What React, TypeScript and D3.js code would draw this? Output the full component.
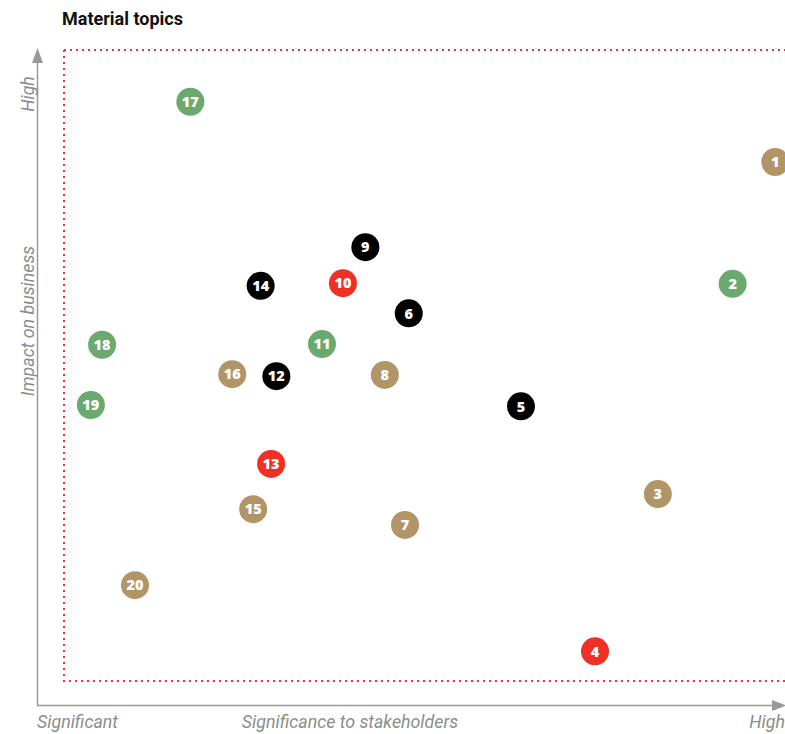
import React from "react";
import * as d3 from "d3";

const ids = [17, 1, 9, 10, 14, 2, 6, 18, 11, 16, 12, 8, 19, 5, 13, 3, 15, 7, 20, 4];
const stakeholders = [20.5, 98.7, 43.9, 40.9, 29.9, 93.0, 49.7, 8.7, 38.1, 26.1, 32.0, 46.5, 7.2, 64.7, 31.3, 83.0, 28.9, 49.2, 13.1, 74.6];
const business = [92.1, 82.9, 69.9, 64.4, 64.0, 64.3, 59.8, 55.0, 55.1, 50.5, 50.2, 50.4, 45.8, 45.6, 36.8, 32.2, 29.9, 27.5, 18.3, 8.2];
const groups = ["green", "tan", "black", "red", "black", "green", "black", "green", "green", "tan", "black", "tan", "green", "black", "red", "tan", "tan", "tan", "tan", "red"];

const groupNames = ["green", "tan", "black", "red"];
const groupColors = ["#6aaa6e", "#b29567", "#000000", "#ee3124"];

const W = 785;
const H = 734;

export default function App() {
  const x = d3.scaleLinear().domain([0, 100]).range([37, 785]);
  const y = d3.scaleLinear().domain([0, 100]).range([705, 50]);
  const color = d3.scaleOrdinal<string, string>().domain(groupNames).range(groupColors);
  const axisColor = "#9a9a9a";
  const textColor = "#8c8c8c";
  const labelFont = "Roboto, sans-serif";
  const fs = 17.8;

  return (
    <svg width={W} height={H} style={{ position: "absolute", left: 0, top: 0, background: "#fff" }}>
      <text x={62} y={25} fontFamily="Roboto, sans-serif" fontWeight={700} fontSize={18} fill="#111" textLength={121} lengthAdjust="spacingAndGlyphs">
        Material topics
      </text>

      {/* dotted red frame */}
      <path d={`M64,50 H790 M64,50 V681 H790`} fill="none" stroke="#e8393a" strokeWidth={2} strokeDasharray="2,4" />

      {/* axes */}
      <line x1={37} y1={705.5} x2={776} y2={705.5} stroke={axisColor} strokeWidth={1.5} />
      <line x1={37.5} y1={705} x2={37.5} y2={60} stroke={axisColor} strokeWidth={1.5} />
      <path d="M32,63 L37.5,48 L43,63 Z" fill={axisColor} />
      <path d="M772,700 L786,705.5 L772,711 Z" fill={axisColor} />

      {/* axis labels */}
      <text x={37} y={728} fontFamily={labelFont} fontStyle="italic" fontSize={fs} fill={textColor}>Significant</text>
      <text x={350} y={728} textAnchor="middle" fontFamily={labelFont} fontStyle="italic" fontSize={fs} fill={textColor}>Significance to stakeholders</text>
      <text x={785} y={728} textAnchor="end" fontFamily={labelFont} fontStyle="italic" fontSize={fs} fill={textColor}>High</text>
      <text transform="translate(34,94) rotate(-90)" textAnchor="middle" fontFamily={labelFont} fontStyle="italic" fontSize={fs} fill={textColor}>High</text>
      <text transform="translate(34,321) rotate(-90)" textAnchor="middle" fontFamily={labelFont} fontStyle="italic" fontSize={fs} fill={textColor}>Impact on business</text>

      {/* points */}
      {ids.map((id, i) => (
        <g key={id} transform={`translate(${x(stakeholders[i])},${y(business[i])})`}>
          <circle r={14} fill={color(groups[i])} />
          <text textAnchor="middle" dy="0.36em" fontFamily="'Open Sans', sans-serif" fontWeight={800} fontSize={14.5} fill="#fff">
            {id}
          </text>
        </g>
      ))}
    </svg>
  );
}
